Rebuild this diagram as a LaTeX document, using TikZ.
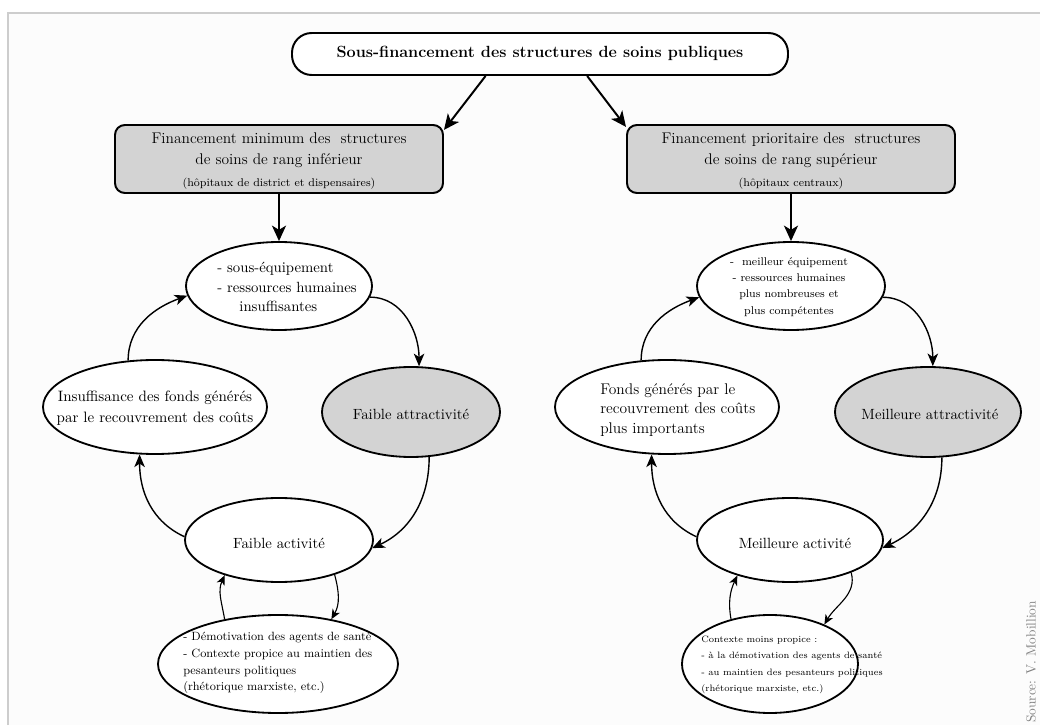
\documentclass[tikz,border=0pt]{standalone}
\usetikzlibrary{shapes.geometric,arrows.meta,calc}
\definecolor{boxgray}{RGB}{211,211,211}
\definecolor{framegray}{RGB}{205,205,205}
\definecolor{bgpaper}{RGB}{252,252,252}
\def\PX{0.025cm}
\begin{document}
\begin{tikzpicture}[x=0.025cm,y=0.025cm,
  ell/.style={ellipse,draw,line width=1.3pt,inner sep=0pt,fill=white},
  gell/.style={ellipse,draw,line width=1.3pt,inner sep=0pt,fill=boxgray},
  sbox/.style={draw,line width=1.4pt,rounded corners=7pt,fill=boxgray,inner sep=0pt},
  txt/.style={inner sep=0pt,font=\fontsize{10.5}{14}\selectfont},
  btxt/.style={inner sep=0pt,font=\fontsize{11}{15.5}\selectfont,align=center},
  bigarrow/.style={line width=1.4pt,-{Stealth[length=11pt,width=10pt,inset=3pt]}},
  cyc/.style={line width=1pt,-{Stealth[length=9pt,width=7.5pt,inset=2.5pt]}},
  sml/.style={line width=0.8pt,-{Stealth[length=7pt,width=6pt,inset=2pt]}},
]
\useasboundingbox (0,0) rectangle (1040,725);
% frame
\fill[bgpaper] (8,0) rectangle (1040,712);
\draw[framegray,line width=1.5pt] (8,0) -- (8,712) -- (1040,712);

% top node
\node[draw,line width=1.4pt,rounded corners=14pt,fill=white,minimum width=496*\PX,minimum height=42*\PX,inner sep=0pt] (top) at (540,671) {};
\node[inner sep=0pt,font=\fontsize{11.5}{14}\selectfont\bfseries] (toptxt) at (540,672) {Sous-financement des structures de soins publiques};

% gray boxes
\node[sbox,minimum width=328*\PX,minimum height=68*\PX] (L) at (279,566) {};
\node[btxt] (Ltxt) at (279,564) {Financement minimum des\ \ structures\\de soins de rang inférieur\\{\fontsize{8}{10}\selectfont(hôpitaux de district et dispensaires)}};
\node[sbox,minimum width=328*\PX,minimum height=68*\PX] (R) at (791,566) {};
\node[btxt] (Rtxt) at (791,564) {Financement prioritaire des\ \ structures\\de soins de rang supérieur\\{\fontsize{8}{10}\selectfont(hôpitaux centraux)}};

% left cycle
\node[ell,minimum width=186*\PX,minimum height=88*\PX] (T1) at (279,439) {};
\node[txt,anchor=west,align=left] (T1t) at (217,438) {- sous-équipement\\- ressources humaines\\\hspace*{1.5em}insuffisantes};
\node[gell,minimum width=178*\PX,minimum height=90*\PX] (A1) at (411,313) {};
\node[txt] (A1t) at (411,311) {Faible attractivité};
\node[ell,minimum width=224*\PX,minimum height=94*\PX] (I1) at (155,318) {};
\node[txt,align=center,font=\fontsize{10.7}{15}\selectfont] (I1t) at (155,317) {Insuffisance des fonds générés\\par le recouvrement des coûts};
\node[ell,minimum width=188*\PX,minimum height=84*\PX] (F1) at (279,185) {};
\node[txt] (F1t) at (279,182) {Faible activité};
\node[ell,minimum width=240*\PX,minimum height=98*\PX] (B1) at (278,61) {};
\node[txt,anchor=west,align=left,font=\fontsize{8.5}{12}\selectfont] (B1t) at (183,62) {- Démotivation des agents de santé\\- Contexte propice au maintien des\\pesanteurs politiques\\(rhétorique marxiste, etc.)};

% right cycle
\node[ell,minimum width=188*\PX,minimum height=88*\PX] (T2) at (791,439) {};
\node[txt,align=center,font=\fontsize{8}{11.5}\selectfont] (T2t) at (789,438) {-\ \ meilleur équipement\\- ressources humaines\\plus nombreuses et\\plus compétentes};
\node[gell,minimum width=186*\PX,minimum height=90*\PX] (A2) at (928,313) {};
\node[txt] (A2t) at (930,311) {Meilleure attractivité};
\node[ell,minimum width=224*\PX,minimum height=94*\PX] (I2) at (667,318) {};
\node[txt,anchor=west,align=left,font=\fontsize{11}{14}\selectfont] (I2t) at (600,315) {Fonds générés par le\\recouvrement des coûts\\plus importants};
\node[ell,minimum width=186*\PX,minimum height=84*\PX] (F2) at (790,185) {};
\node[txt] (F2t) at (795,182) {Meilleure activité};
\node[ell,minimum width=176*\PX,minimum height=98*\PX] (B2) at (770,61) {};
\node[txt,anchor=west,align=left,font=\fontsize{6.6}{11.8}\selectfont] (B2t) at (701,60) {Contexte moins propice :\\- à la démotivation des agents de santé\\- au maintien des pesanteurs politiques\\(rhétorique marxiste, etc.)};

% source
\node[rotate=90,anchor=west,inner sep=0pt,text=gray,font=\fontsize{9.5}{11}\selectfont] (src) at (1031,2) {Source: V. Mobillion};

% arrows
\draw[bigarrow] (top.202.8) -- (L.10);
\draw[bigarrow] (top.-25) -- (R.169.8);
\draw[bigarrow] (L.south) -- (T1.north);
\draw[bigarrow] (R.south) -- (T2.north);

\draw[cyc] (T1.-7) to[out=0,in=90] (A1.80);
\draw[cyc] (A1.-68) to[out=-90,in=25] (F1.-5);
\draw[cyc] (F1.178) to[out=155,in=-90] (I1.-108);
\draw[cyc] (I1.120) to[out=90,in=200] (T1.186);
\draw[sml] (B1.140) to[out=100,in=-115] (F1.-147);
\draw[sml] (F1.-32) to[out=-75,in=60] (B1.40);

\draw[cyc] (T2.-7) to[out=0,in=90] (A2.84);
\draw[cyc] (A2.-73) to[out=-90,in=25] (F2.-5);
\draw[cyc] (F2.178) to[out=155,in=-90] (I2.-108);
\draw[cyc] (I2.119) to[out=90,in=200] (T2.187);
\draw[sml] (B2.131) to[out=100,in=-115] (F2.-146);
\draw[sml] (F2.-28) to[out=-75,in=60] (B2.36);
\end{tikzpicture}
\end{document}
